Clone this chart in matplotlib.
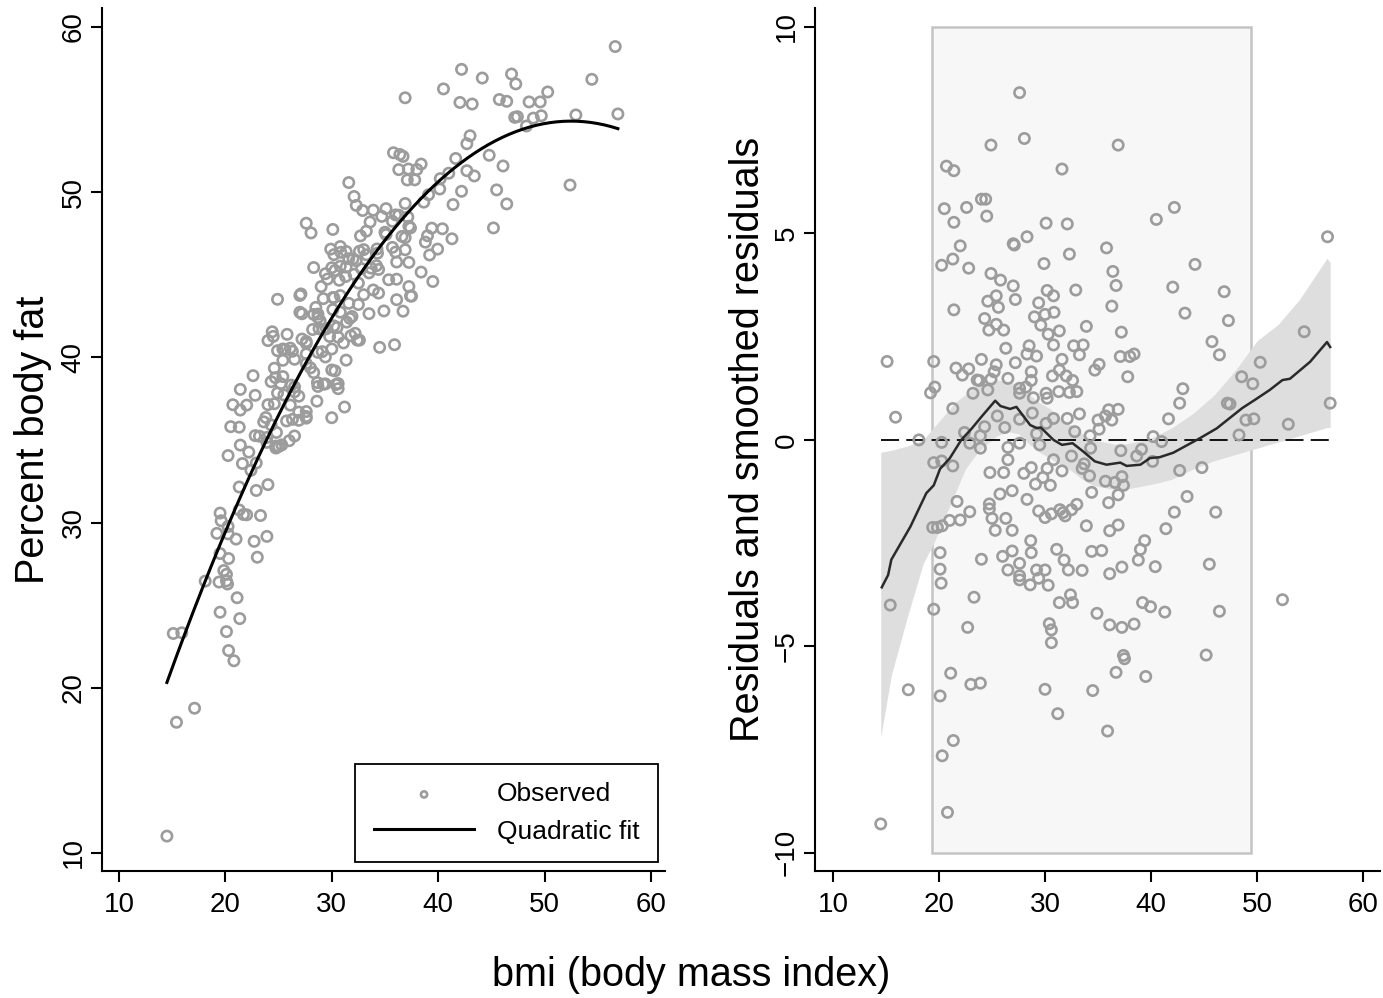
import numpy as np
import matplotlib.pyplot as plt
from matplotlib.patches import Rectangle

plt.rcParams['font.family'] = ['Liberation Sans', 'DejaVu Sans']

# bmi and residual (observed - quadratic fit)
bmi = [
    15.1, 14.5, 15.4, 15.9, 17.1, 18.1, 19.5, 19.6, 19.2, 19.5, 20.25, 19.4, 19.85, 20.3,
    20.1, 20.1, 20.2, 19.5, 20.1, 20.3, 21.35, 20.8, 20.7, 21.4, 20.5, 21.4, 22.0, 20.25,
    21.3, 21.4, 21.6, 21.3, 20.25, 21.3, 21.7, 21.0, 22.0, 21.1,
    # 22 - 30
    27.6, 28.05, 24.9, 24.0, 24.4, 22.6, 24.5, 30.1, 28.3, 27.0, 27.1, 22.8, 29.9, 24.9,
    25.8, 27.0, 30.2, 25.4, 24.6, 25.6, 27.2, 29.4, 24.3, 29.0, 30.0, 25.4, 26.1, 24.7,
    29.6, 26.3, 28.5, 28.3, 29.2, 24.0, 27.2, 22.8, 25.4, 22.2, 25.2, 23.6, 23.8, 24.9,
    26.5, 28.7, 28.7, 23.2, 24.6, 27.6, 27.6, 28.2, 28.9, 30.1, 30.2, 25.5, 27.6, 28.8,
    26.2, 24.3, 30.1, 22.4, 22.9, 23.9, 23.9, 27.6, 29.2, 29.5, 26.5, 26.5, 24.8, 26.1,
    28.0, 28.7, 29.8, 29.1, 26.9, 25.75, 28.3, 24.75, 24.75, 22.9, 29.4, 30.0, 25.0, 26.3,
    25.3, 26.9, 28.65, 24.0, 26.0, 26.9, 28.7, 27.6, 26.5, 27.6, 29.2, 30.0, 29.4, 28.6,
    27.6, 23.3, 22.7, 23.0, 23.9, 30.0,
    # 30 - 40
    36.9, 31.6, 32.1, 40.5, 35.8, 32.3, 36.4, 36.7, 30.8, 32.9, 36.3, 30.85, 33.9, 31.35,
    30.3, 37.2, 30.8, 32.7, 33.6, 33.25, 31.6, 37.1, 38.0, 38.4, 35.1, 34.7, 31.35, 30.7,
    32.0, 32.6, 37.8, 31.3, 32.3, 33.0, 33.25, 36.0, 36.9, 35.7, 35.0, 36.3, 30.8, 32.1,
    35.1, 32.8, 34.25, 40.2, 34.3, 37.15, 39.1, 32.5, 38.65, 30.8, 33.7, 30.2, 33.5, 31.6,
    34.2, 37.25, 35.7, 36.6, 37.4, 30.5, 34.4, 36.9, 36.0, 33.0, 31.4, 31.7, 32.5, 30.6,
    31.9, 33.9, 36.1, 36.9, 31.1, 34.4, 35.35, 39.0, 39.4, 31.8, 38.8, 32.2, 33.5, 36.1,
    37.25, 40.4, 30.3, 32.4, 31.35, 32.6, 34.9, 39.2, 39.95, 30.4, 30.6, 36.1, 37.25, 38.4,
    30.6, 37.4, 37.5, 36.7, 39.5, 34.5, 31.2, 35.9,
    # above 40
    42.2, 44.15, 56.65, 42.05, 46.9, 43.2, 47.3, 45.75, 46.45, 54.45, 50.3, 48.55, 49.6,
    43.0, 42.7, 47.2, 47.45, 56.9, 41.65, 48.95, 49.7, 52.95, 48.3, 41.0, 40.15, 42.7,
    44.8, 43.4, 42.2, 46.1, 41.4, 45.5, 52.4, 41.3, 46.45, 45.2,
]
resid = [
    1.9, -9.3, -4.0, 0.55, -6.05, 0.0, 1.9, 1.28, 1.14, -0.55, -0.51, -2.12, -2.12, -2.08,
    -2.73, -3.13, -3.47, -4.1, -6.2, -7.65, -7.28, -9.02, 6.63, 6.52, 5.6, 5.27, 4.7, 4.23,
    4.38, 3.15, 1.74, 0.76, -0.06, -0.63, -1.49, -1.95, -1.94, -5.65,
    # 22 - 30
    8.41, 7.3, 7.14, 5.83, 5.83, 5.63, 5.42, 5.25, 4.92, 4.75, 4.72, 4.16, 4.27, 4.03,
    3.87, 3.73, 3.62, 3.49, 3.36, 3.21, 3.40, 3.32, 2.94, 2.98, 3.04, 2.8, 2.66, 2.66,
    2.78, 2.22, 2.28, 2.08, 2.03, 1.95, 1.87, 1.72, 1.82, 1.57, 1.65, 1.45, 1.44, 1.47,
    1.49, 1.65, 1.44, 1.13, 1.21, 1.25, 1.13, 1.28, 1.02, 1.13, 1.01, 0.58, 0.50, 0.65,
    0.30, 0.32, 0.40, 0.18, -0.08, -0.2, 0.1, -0.08, 0.15, -0.12, -0.18, -0.48, -0.79, -0.79,
    -0.81, -0.67, -0.91, -1.07, -1.23, -1.31, -1.44, -1.55, -1.67, -1.74, -1.72, -1.88, -1.9, -1.9,
    -2.19, -2.19, -2.44, -2.89, -2.82, -2.69, -2.73, -2.99, -3.15, -3.29, -3.15, -3.15, -3.35, -3.51,
    -3.39, -3.81, -4.54, -5.92, -5.89, -6.04,
    # 30 - 40
    7.14, 6.56, 5.23, 5.34, 4.65, 4.5, 4.08, 3.74, 3.49, 3.63, 3.24, 3.09, 2.75, 2.64,
    2.56, 2.61, 2.3, 2.28, 2.3, 2.06, 1.95, 2.02, 2.02, 2.08, 1.83, 1.69, 1.69, 1.55,
    1.55, 1.44, 1.53, 1.17, 1.15, 1.17, 0.63, 0.73, 0.74, 0.58, 0.48, 0.48, 0.52, 0.52,
    0.26, 0.2, 0.1, 0.08, -0.2, -0.26, -0.23, -0.39, -0.39, -0.48, -0.58, -0.69, -0.69, -0.75,
    -0.87, -0.89, -1.0, -1.03, -1.1, -1.1, -1.27, -1.33, -1.52, -1.56, -1.69, -1.76, -1.69, -1.79,
    -1.84, -2.08, -2.2, -2.06, -2.65, -2.7, -2.68, -2.65, -2.44, -2.91, -2.91, -3.15, -3.16, -3.24,
    -3.08, -3.07, -3.52, -3.75, -3.94, -3.94, -4.2, -3.94, -4.04, -4.45, -4.6, -4.48, -4.54, -4.46,
    -4.91, -5.22, -5.3, -5.63, -5.73, -6.07, -6.63, -7.05,
    # above 40
    5.63, 4.25, 4.92, 3.7, 3.59, 3.07, 2.89, 2.38, 2.06, 2.62, 1.88, 1.53, 1.36,
    1.24, 0.89, 0.89, 0.87, 0.89, 0.51, 0.48, 0.51, 0.38, 0.12, -0.04, -0.52, -0.74,
    -0.67, -1.37, -1.75, -1.75, -2.15, -3.01, -3.87, -4.17, -4.15, -5.21,
]

# quadratic fit of percent body fat on bmi (x^2, x, 1)
quad_coef = [-0.02353, 2.4707, -10.555]

# smoothed residuals and their band
smooth_x = [14.6, 15.2, 15.5, 17.3, 18.8, 19.5, 20.1, 21.0, 22.1, 23.1, 24.0, 25.3, 25.8,
            26.7, 27.3, 28.6, 29.2, 29.6, 30.8, 31.6, 32.6, 33.6, 34.7, 35.8, 37.1, 37.7,
            39.0, 39.9, 40.8, 42.1, 44.6, 46.2, 48.6, 49.8, 51.2, 52.4, 53.1, 55.0, 56.6, 56.9]
smooth_y = [-3.57, -3.27, -2.9, -2.1, -1.29, -1.1, -0.7, -0.45, 0.0, 0.28, 0.56, 0.95, 0.82,
            0.75, 0.8, 0.36, 0.29, 0.3, 0.0, -0.12, -0.08, -0.28, -0.52, -0.6, -0.55, -0.63,
            -0.6, -0.44, -0.42, -0.31, 0.04, 0.28, 0.77, 0.97, 1.21, 1.45, 1.48, 1.89, 2.37, 2.25]
band_x = [14.5, 15.5, 17.0, 18.5, 19.5, 20.5, 21.5, 22.5, 23.5, 24.5, 25.5, 26.5, 27.5,
          28.5, 29.5, 30.5, 31.5, 32.5, 33.5, 34.5, 35.5, 36.5, 37.5, 38.5, 39.5, 40.5,
          42.0, 44.0, 46.0, 48.0, 50.0, 52.0, 54.0, 56.6, 56.9]
band_hi = [-0.3, -0.25, -0.15, 0.0, 0.3, 0.6, 0.9, 1.1, 1.3, 1.4, 1.45, 1.4, 1.35,
           1.1, 0.9, 0.75, 0.5, 0.35, 0.15, 0.0, -0.05, -0.1, -0.1, -0.05, 0.0, 0.1,
           0.3, 0.65, 1.1, 1.7, 2.4, 2.8, 3.4, 4.4, 4.3]
band_lo = [-7.2, -5.7, -4.3, -3.0, -2.5, -1.9, -1.3, -0.7, -0.35, -0.1, 0.1, 0.2, 0.15,
           -0.1, -0.3, -0.45, -0.6, -0.75, -0.95, -1.1, -1.15, -1.2, -1.2, -1.15, -1.1, -1.05,
           -0.95, -0.7, -0.5, -0.35, -0.2, -0.05, 0.1, 0.3, 0.3]

# highlighted bmi range
range_lo, range_hi = 19.3, 49.4

bmi = np.array(bmi)
resid = np.array(resid)
fat = np.polyval(quad_coef, bmi) + resid
xs = np.linspace(bmi.min(), bmi.max(), 200)

pt_col = '#9c9c9c'

fig = plt.figure(figsize=(13.83, 9.98), dpi=100)
ax1 = fig.add_axes([101.7 / 1383, 1 - 871 / 998, 563 / 1383, 863 / 998])
ax2 = fig.add_axes([815 / 1383, 1 - 871 / 998, 565 / 1383, 863 / 998])

# panel izquierdo
ax1.scatter(bmi, fat, s=55, facecolors='none', edgecolors=pt_col, linewidths=1.9,
            label='Observed', zorder=3)
ax1.plot(xs, np.polyval(quad_coef, xs), color='black', lw=2.2, label='Quadratic fit', zorder=4)
ax1.set_xlim(8.37, 61.3)
ax1.set_ylim(8.91, 61.15)
ax1.set_yticks([10, 20, 30, 40, 50, 60])
ax1.set_ylabel('Percent body fat', fontsize=28.5)
ax1.yaxis.set_label_coords(-0.122, 0.5)
leg = ax1.legend(loc='lower right', bbox_to_anchor=(0.9876, 0.0104), borderaxespad=0,
                 fontsize=19, handlelength=3.8, handletextpad=0.85, labelspacing=0.5,
                 borderpad=0.7, markerscale=0.6, fancybox=False, framealpha=1,
                 edgecolor='black')
leg.get_frame().set_linewidth(1.3)

# panel derecho
ax2.add_patch(Rectangle((range_lo, -10), range_hi - range_lo, 20, facecolor='#f7f7f7',
                        edgecolor='#c4c4c4', lw=1.8, zorder=0))
ax2.fill_between(band_x, band_lo, band_hi, color='#dedede', lw=0, zorder=1)
ax2.plot([bmi.min(), bmi.max()], [0, 0], color='black', lw=1.3, ls=(0, (10, 4)), zorder=2)
ax2.scatter(bmi, resid, s=55, facecolors='none', edgecolors=pt_col, linewidths=1.9, zorder=3)
ax2.plot(smooth_x, smooth_y, color='#2a2a2a', lw=1.8, zorder=4)
ax2.set_xlim(8.3, 61.6)
ax2.set_ylim(-10.44, 10.46)
ax2.set_yticks([-10, -5, 0, 5, 10])
ax2.set_ylabel('Residuals and smoothed residuals', fontsize=28.5)
ax2.yaxis.set_label_coords(-0.1186, 0.5)

for ax in (ax1, ax2):
    ax.yaxis.label.set_va('center')
    ax.set_xticks([10, 20, 30, 40, 50, 60])
    ax.spines['top'].set_visible(False)
    ax.spines['right'].set_visible(False)
    for s in ('left', 'bottom'):
        ax.spines[s].set_linewidth(1.5)
    ax.tick_params(length=8, width=1.5, labelsize=20, direction='out')
    ax.tick_params(axis='x', pad=7)
    ax.tick_params(axis='y', pad=3, labelrotation=90)
    for lab in ax.get_yticklabels():
        lab.set_va('center')

fig.text(0.5, 1 - 975 / 998, 'bmi (body mass index)', ha='center', va='center', fontsize=28.5)

fig.savefig('out.png', dpi=100)
